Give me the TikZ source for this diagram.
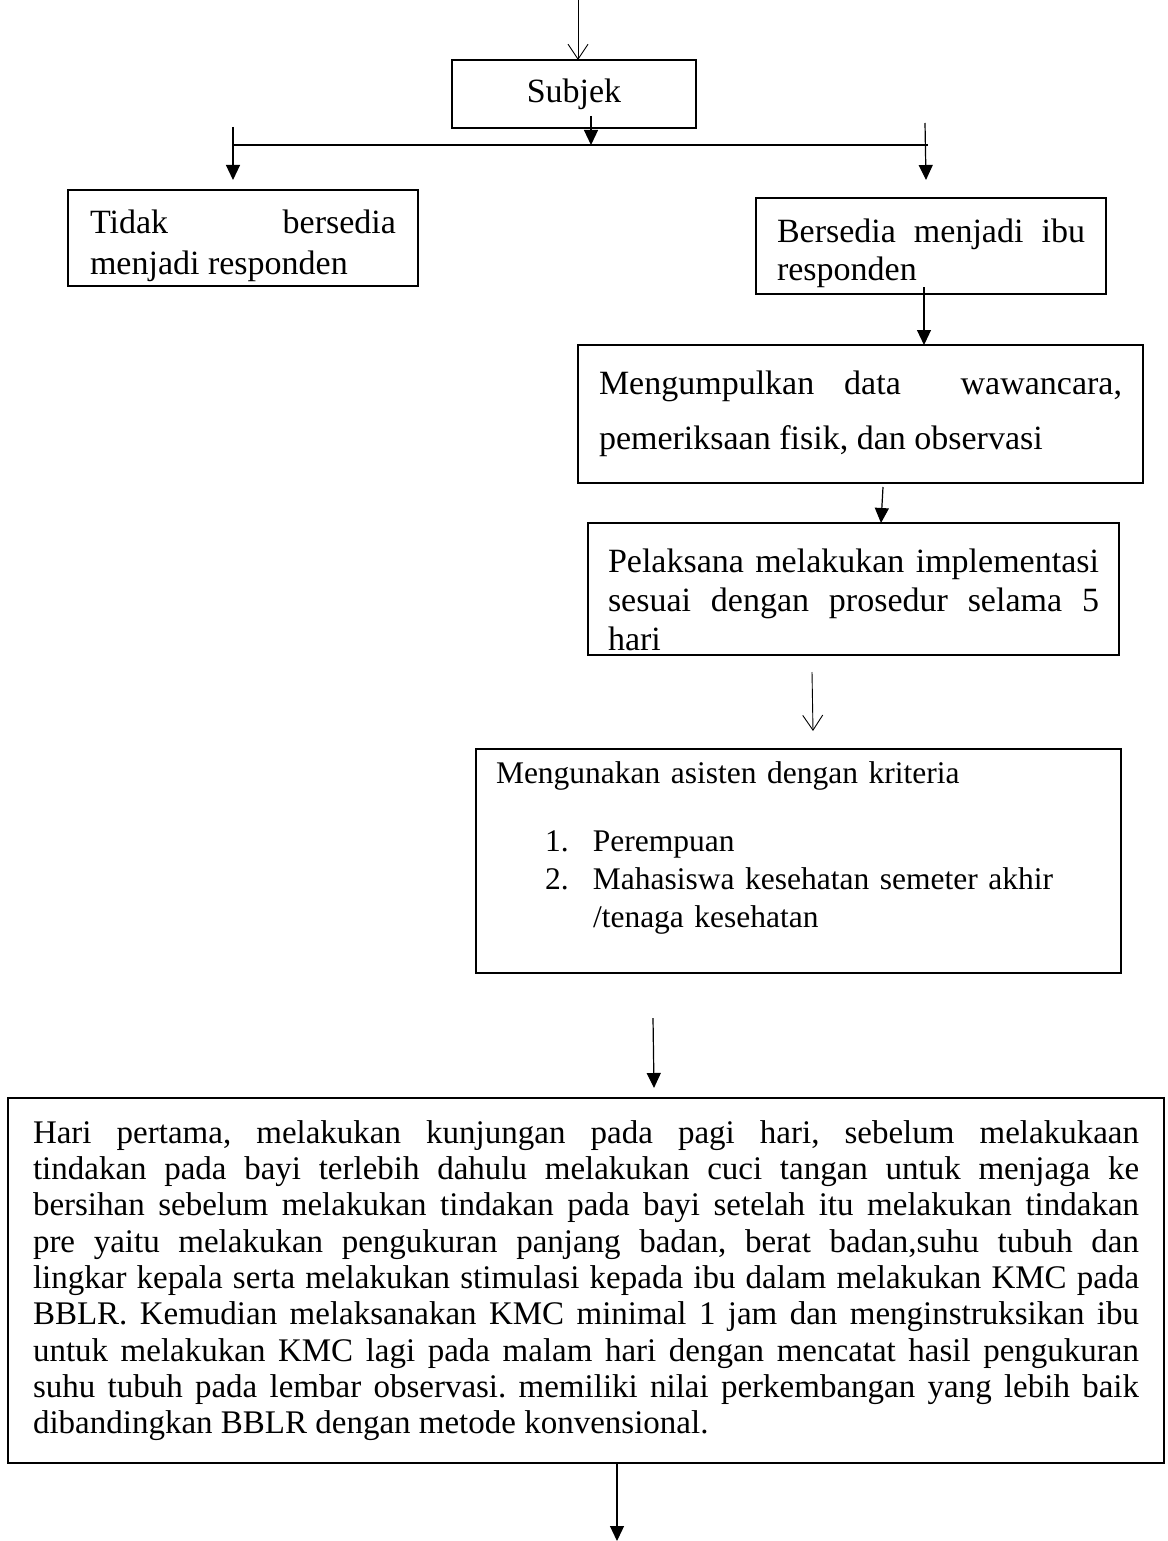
\documentclass[tikz,border=0pt]{standalone}
\usepackage{fontspec}
\setmainfont{Liberation Serif}
\usetikzlibrary{positioning,arrows.meta}

\tikzset{
  box/.style={draw, line width=1.6pt, inner ysep=0pt, outer sep=0pt,
    execute at begin node={\frenchspacing\tolerance=10000\hyphenpenalty=10000}},
  arr/.style={-{Triangle[length=15pt,width=14pt]}, line width=1.2pt},
  openarr/.style={-{Straight Barb[length=15pt,width=20pt]}, line width=0.9pt},
}

\begin{document}
\begin{tikzpicture}[x=1pt,y=1pt]
\useasboundingbox (0,0) rectangle (1167,-1541);

\node (subjek) [box, line width=2.6pt, minimum width=244pt, minimum height=68pt,
  font=\fontsize{34}{38}\selectfont] at (574,-94) {Subjek};
\node (tidak) [box, below left=62pt and 34pt of subjek, text width=306pt, inner xsep=22pt,
  minimum height=96pt, align=justify, font=\fontsize{34}{41}\selectfont]
  {\rule{0pt}{40pt}Tidak bersedia\linebreak menjadi responden};
\node (bersedia) [box, below right=70pt and 60pt of subjek, text width=308pt, inner xsep=21pt,
  minimum height=96pt, align=justify, font=\fontsize{34}{38}\selectfont]
  {\rule{0pt}{38.5pt}Bersedia menjadi ibu\linebreak responden};
\node (kumpul) [box, below=51pt of bersedia, xshift=-70.5pt, text width=523pt, inner xsep=21pt,
  minimum height=138pt, align=justify, font=\fontsize{34}{55}\selectfont]
  {Mengumpulkan data\ \ wawancara,\linebreak pemeriksaan fisik, dan observasi};
\node (laksana) [box, below=40pt of kumpul, xshift=-7pt, text width=491pt, inner xsep=20pt,
  minimum height=132pt, align=justify, font=\fontsize{34}{39}\selectfont]
  {\rule{0pt}{46pt}Pelaksana melakukan implementasi\linebreak sesuai dengan prosedur selama 5\linebreak hari};
\node (asisten) [box, line width=2.2pt, below=94pt of laksana, xshift=-55pt, text width=605pt,
  inner xsep=20pt, minimum height=224pt, align=left, font=\fontsize{31.5}{38}\selectfont]
  {Mengunakan asisten dengan kriteria\par\vspace{30pt}
   \hangindent=97pt\hangafter=1\hspace*{49pt}\makebox[48pt][l]{1.}Perempuan\par
   \hangindent=97pt\hangafter=1\hspace*{49pt}\makebox[48pt][l]{2.}Mahasiswa kesehatan semeter akhir\newline
   /tenaga kesehatan\rule[-32pt]{0pt}{0pt}\par};
\node (hari) [box, below=125pt of asisten, xshift=-212.5pt, text width=1106pt, inner xsep=25pt,
  minimum height=365pt, align=justify, font=\fontsize{33}{36.3}\selectfont]
  {Hari pertama, melakukan kunjungan pada pagi hari, sebelum melakukaan\linebreak
   tindakan pada bayi terlebih dahulu melakukan cuci tangan untuk menjaga ke\linebreak
   bersihan sebelum melakukan tindakan pada bayi setelah itu melakukan tindakan\linebreak
   pre yaitu melakukan pengukuran panjang badan, berat badan,suhu tubuh dan\linebreak
   lingkar kepala serta melakukan stimulasi kepada ibu dalam melakukan KMC pada\linebreak
   BBLR. Kemudian melaksanakan KMC minimal 1 jam dan menginstruksikan ibu\linebreak
   untuk melakukan KMC lagi pada malam hari dengan mencatat hasil pengukuran\linebreak
   suhu tubuh pada lembar observasi. memiliki nilai perkembangan yang lebih baik\linebreak
   dibandingkan BBLR dengan metode konvensional.};

% free ends of the connectors
\coordinate (top) at (578,0);
\coordinate (s1) at ([xshift=17pt,yshift=12pt]subjek.south);
\coordinate (split) at ([yshift=-29pt]s1);
\coordinate (jl) at (233,-145);
\coordinate (jr) at (928,-145);
\coordinate (l1) at (233,-127);
\coordinate (l2) at (233,-180);
\coordinate (r1) at (925,-123);
\coordinate (r2) at (926,-180);
\coordinate (b1) at (924,-287);
\coordinate (k1) at (883,-487);
\coordinate (p1) at (812,-672);
\coordinate (p2) at (813,-731);
\coordinate (a1) at (653,-1018);
\coordinate (a2) at (654,-1088);
\coordinate (h1) at ([xshift=31pt]hari.south);
\coordinate (h2) at (617,-1541);

\draw[openarr] (top) -- (top |- subjek.north);
\draw[arr] (s1) -- (split);
\draw[line width=1.2pt] (jl) -- (jr);
\draw[arr] (l1) -- (l2);
\draw[arr] (r1) -- (r2);
\draw[arr] (b1) -- (b1 |- kumpul.north);
\draw[arr] (k1) -- ([xshift=-2pt]k1 |- laksana.north);
\draw[openarr] (p1) -- (p2);
\draw[arr] (a1) -- (a2);
\draw[arr] (h1) -- (h2);
\end{tikzpicture}
\end{document}
